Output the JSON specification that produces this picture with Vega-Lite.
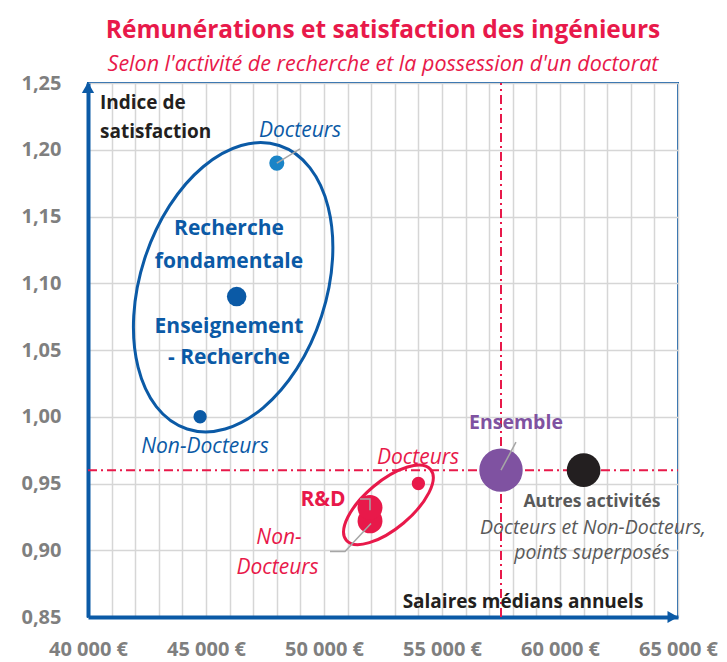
{
  "$schema": "https://vega.github.io/schema/vega-lite/v6.json",
  "width": 590,
  "height": 534,
  "autosize": {"type": "none"},
  "padding": {"left": 88, "top": 83, "right": 49, "bottom": 45},
  "background": "white",
  "title": {
    "text": "Rémunérations et satisfaction des ingénieurs",
    "subtitle": "Selon l'activité de recherche et la possession d'un doctorat",
    "anchor": "middle",
    "font": "Open Sans",
    "fontSize": 24.5,
    "fontWeight": "bold",
    "color": "#e8194a",
    "subtitleFont": "Open Sans",
    "subtitleFontSize": 21.5,
    "subtitleFontStyle": "italic",
    "subtitleColor": "#e8194a",
    "offset": -3,
    "subtitlePadding": 10
  },
  "config": {
    "view": {"stroke": "#0b5aa6", "strokeWidth": 2},
    "font": "Open Sans"
  },
  "encoding": {
    "x": {
      "field": "x",
      "type": "quantitative",
      "scale": {"domain": [40000, 65000], "nice": false, "zero": false},
      "axis": {
        "title": null,
        "values": [40000, 41000, 42000, 43000, 44000, 45000, 46000, 47000, 48000, 49000, 50000, 51000, 52000, 53000, 54000, 55000, 56000, 57000, 58000, 59000, 60000, 61000, 62000, 63000, 64000, 65000],
        "labelExpr": "datum.value % 5000 === 0 ? replace(format(datum.value, ','), ',', ' ') + ' €' : ''",
        "grid": true,
        "gridColor": "#d6d6d6",
        "gridWidth": 1.5,
        "ticks": false,
        "domainColor": "#0b5aa6",
        "domainWidth": 4,
        "labelFont": "Open Sans",
        "labelFontSize": 20,
        "labelFontWeight": "bold",
        "labelColor": "#7f7f7f",
        "labelPadding": 22,
        "labelOverlap": false,
        "labelFlush": false
      }
    },
    "y": {
      "field": "y",
      "type": "quantitative",
      "scale": {"domain": [0.85, 1.25], "nice": false, "zero": false},
      "axis": {
        "title": null,
        "values": [0.85, 0.9, 0.95, 1.0, 1.05, 1.1, 1.15, 1.2, 1.25],
        "labelExpr": "replace(format(datum.value, '.2f'), '.', ',')",
        "grid": true,
        "gridColor": "#d6d6d6",
        "gridWidth": 1.5,
        "ticks": false,
        "domainColor": "#0b5aa6",
        "domainWidth": 4,
        "labelFont": "Open Sans",
        "labelFontSize": 20,
        "labelFontWeight": "bold",
        "labelColor": "#7f7f7f",
        "labelPadding": 27,
        "labelOverlap": false,
        "labelFlush": false
      }
    }
  },
  "layer": [
    {
      "data": {"values": [{"x": 57500, "y": 0.85, "y2": 1.25}]},
      "mark": {"type": "rule", "color": "#e8194a", "strokeWidth": 2, "strokeDash": [9, 4, 2, 4]},
      "encoding": {"y2": {"field": "y2"}}
    },
    {
      "data": {"values": [{"x": 40000, "x2": 65000, "y": 0.96}]},
      "mark": {"type": "rule", "color": "#e8194a", "strokeWidth": 2, "strokeDash": [9, 4, 2, 4]},
      "encoding": {"x2": {"field": "x2"}}
    },
    {
      "data": {"values": [{"x": 46150, "y": 1.097}]},
      "mark": {
        "type": "point",
        "shape": "M 0 -1 C 0.3446 -1 0.624 -0.5523 0.624 0 C 0.624 0.5523 0.3446 1 0 1 C -0.3446 1 -0.624 0.5523 -0.624 0 C -0.624 -0.5523 -0.3446 -1 0 -1 Z",
        "size": 88804,
        "angle": 18,
        "filled": false,
        "color": "#0b5aa6",
        "strokeWidth": 3,
        "opacity": 1
      }
    },
    {
      "data": {"values": [{"x": 52730, "y": 0.934}]},
      "mark": {
        "type": "point",
        "shape": "M -1 0 C -1 -0.2375 -0.5523 -0.43 0 -0.43 C 0.5523 -0.43 1 -0.2375 1 0 C 1 0.2375 0.5523 0.43 0 0.43 C -0.5523 0.43 -1 0.2375 -1 0 Z",
        "size": 12100,
        "angle": -40,
        "filled": false,
        "color": "#e8194a",
        "strokeWidth": 3,
        "opacity": 1
      }
    },
    {
      "data": {"values": [{"cat": "Recherche - Docteurs", "x": 48000, "y": 1.19}]},
      "mark": {"type": "circle", "opacity": 1, "size": 227, "color": "#1a84c7"}
    },
    {
      "data": {"values": [{"cat": "Recherche", "x": 46300, "y": 1.09}]},
      "mark": {"type": "circle", "opacity": 1, "size": 380, "color": "#0b5aa6"}
    },
    {
      "data": {"values": [{"cat": "Recherche - Non-Docteurs", "x": 44750, "y": 1.0}]},
      "mark": {"type": "circle", "opacity": 1, "size": 177, "color": "#0b5aa6"}
    },
    {
      "data": {"values": [
        {"cat": "R&D - Non-Docteurs", "x": 51950, "y": 0.922},
        {"cat": "R&D", "x": 51950, "y": 0.932}
      ]},
      "mark": {"type": "circle", "opacity": 1, "size": 620, "color": "#e8194a"}
    },
    {
      "data": {"values": [{"cat": "R&D - Docteurs", "x": 54000, "y": 0.95}]},
      "mark": {"type": "circle", "opacity": 1, "size": 177, "color": "#e8194a"}
    },
    {
      "data": {"values": [{"cat": "Ensemble", "x": 57500, "y": 0.96}]},
      "mark": {"type": "circle", "opacity": 1, "size": 1886, "color": "#7f52a1"}
    },
    {
      "data": {"values": [{"cat": "Autres activités", "x": 61000, "y": 0.96}]},
      "mark": {"type": "circle", "opacity": 1, "size": 1134, "color": "#231f20"}
    },
    {
      "data": {"values": [
        {"g": "a", "i": 0, "x": 48000, "y": 1.19},
        {"g": "a", "i": 1, "x": 48983, "y": 1.2006},
        {"g": "b", "i": 0, "x": 51525, "y": 0.9384},
        {"g": "b", "i": 1, "x": 51948, "y": 0.9384},
        {"g": "b", "i": 2, "x": 51948, "y": 0.930},
        {"g": "c", "i": 0, "x": 51990, "y": 0.920},
        {"g": "c", "i": 1, "x": 50889, "y": 0.899},
        {"g": "c", "i": 2, "x": 50254, "y": 0.899},
        {"g": "d", "i": 0, "x": 57500, "y": 0.96},
        {"g": "d", "i": 1, "x": 58134, "y": 0.981}
      ]},
      "mark": {"type": "line", "color": "#a6a6a6", "strokeWidth": 1.5},
      "encoding": {
        "detail": {"field": "g"},
        "order": {"field": "i", "type": "quantitative"}
      }
    },
    {
      "data": {"values": [{"x": 40000, "y": 1.2465}]},
      "mark": {"type": "point", "shape": "triangle-up", "size": 150, "filled": true, "opacity": 1, "color": "#0b5aa6"}
    },
    {
      "data": {"values": [{"x": 64780, "y": 0.85}]},
      "mark": {"type": "point", "shape": "triangle-right", "size": 150, "filled": true, "opacity": 1, "color": "#0b5aa6"}
    },
    {
      "data": {"values": [
        {"t": "Docteurs", "x": 48983, "y": 1.214},
        {"t": "Non-Docteurs", "x": 44957, "y": 0.977}
      ]},
      "mark": {"type": "text", "font": "Open Sans", "fontSize": 21, "fontStyle": "italic", "color": "#0b5aa6"},
      "encoding": {"text": {"field": "t"}}
    },
    {
      "data": {"values": [
        {"t": "Recherche", "x": 45974, "y": 1.141},
        {"t": "fondamentale", "x": 45974, "y": 1.116},
        {"t": "Enseignement", "x": 45974, "y": 1.067},
        {"t": "- Recherche", "x": 45974, "y": 1.044}
      ]},
      "mark": {"type": "text", "font": "Open Sans", "fontSize": 21, "fontWeight": "bold", "color": "#0b5aa6"},
      "encoding": {"text": {"field": "t"}}
    },
    {
      "data": {"values": [
        {"t": "Docteurs", "x": 53982, "y": 0.969},
        {"t": "Non-", "x": 48093, "y": 0.909},
        {"t": "Docteurs", "x": 48029, "y": 0.887}
      ]},
      "mark": {"type": "text", "font": "Open Sans", "fontSize": 21, "fontStyle": "italic", "color": "#e8194a"},
      "encoding": {"text": {"field": "t"}}
    },
    {
      "data": {"values": [{"t": "R&D", "x": 49957, "y": 0.938}]},
      "mark": {"type": "text", "font": "Open Sans", "fontSize": 21, "fontWeight": "bold", "color": "#e8194a"},
      "encoding": {"text": {"field": "t"}}
    },
    {
      "data": {"values": [{"t": "Ensemble", "x": 58134, "y": 0.995}]},
      "mark": {"type": "text", "font": "Open Sans", "fontSize": 19.5, "fontWeight": "bold", "color": "#7f52a1"},
      "encoding": {"text": {"field": "t"}}
    },
    {
      "data": {"values": [{"t": "Autres activités", "x": 61354, "y": 0.936}]},
      "mark": {"type": "text", "font": "Open Sans", "fontSize": 17.5, "fontWeight": "bold", "color": "#595959"},
      "encoding": {"text": {"field": "t"}}
    },
    {
      "data": {"values": [
        {"t": "Docteurs et Non-Docteurs,", "x": 61397, "y": 0.917},
        {"t": "points superposés", "x": 61354, "y": 0.898}
      ]},
      "mark": {"type": "text", "font": "Open Sans", "fontSize": 19.5, "fontStyle": "italic", "color": "#595959"},
      "encoding": {"text": {"field": "t"}}
    },
    {
      "data": {"values": [
        {"t": "Indice de", "x": 40508, "y": 1.235},
        {"t": "satisfaction", "x": 40508, "y": 1.213}
      ]},
      "mark": {"type": "text", "font": "Open Sans", "fontSize": 19, "fontWeight": "bold", "color": "#231f20", "align": "left"},
      "encoding": {"text": {"field": "t"}}
    },
    {
      "data": {"values": [{"t": "Salaires médians annuels", "x": 58431, "y": 0.861}]},
      "mark": {"type": "text", "font": "Open Sans", "fontSize": 19, "fontWeight": "bold", "color": "#231f20"},
      "encoding": {"text": {"field": "t"}}
    }
  ]
}
